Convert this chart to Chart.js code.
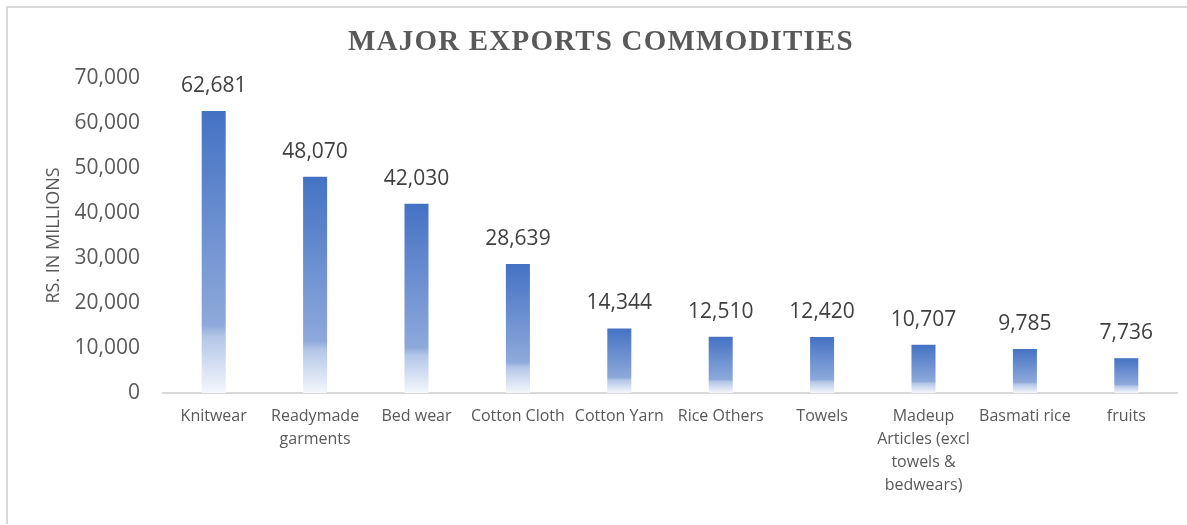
<!DOCTYPE html>
<html>
<head>
<meta charset="utf-8">
<script src="https://cdn.jsdelivr.net/npm/chart.js@4.4.0/dist/chart.umd.min.js"></script>
<style>
  html, body { margin: 0; padding: 0; background: #fff; }
  #wrap { position: relative; width: 1187px; height: 525px; }
  #frame { position: absolute; left: 6px; top: 6px; right: 0; bottom: 1px;
           border-left: 2px solid #d9d9d9; border-top: 2px solid #d9d9d9; }
  canvas { position: absolute; left: 0; top: 0; }
</style>
</head>
<body>
<div id="wrap">
  <div id="frame"></div>
  <canvas id="chart" width="1187" height="525"></canvas>
</div>
<script>
const chartTitle = 'MAJOR EXPORTS COMMODITIES';
const categories = [
  'Knitwear',
  ['Readymade', 'garments'],
  'Bed wear',
  'Cotton Cloth',
  'Cotton Yarn',
  'Rice Others',
  'Towels',
  ['Madeup', 'Articles (excl', 'towels &', 'bedwears)'],
  'Basmati rice',
  'fruits'
];
const exportValues = [62681, 48070, 42030, 28639, 14344, 12510, 12420, 10707, 9785, 7736];
const yMin = 0;
const yMax = 70000;
const yStep = 10000;

// gradient per bar: dark blue at the top, fading to almost white at the base
function barGradient(context) {
  const chart = context.chart;
  const { ctx, chartArea, scales } = chart;
  if (!chartArea || context.type !== 'data') return '#4472C4';
  const top = scales.y.getPixelForValue(context.raw);
  const base = scales.y.getPixelForValue(0);
  const g = ctx.createLinearGradient(0, top, 0, base);
  g.addColorStop(0, '#4472C4');
  g.addColorStop(0.76, '#8EA9DB');
  g.addColorStop(0.8, '#B3C6E8');
  g.addColorStop(1, '#F4F7FC');
  return g;
}

// value labels above each bar
const valueLabels = {
  id: 'valueLabels',
  afterDatasetsDraw(chart) {
    const { ctx } = chart;
    const meta = chart.getDatasetMeta(0);
    ctx.save();
    ctx.font = '21px "Open Sans"';
    ctx.fillStyle = '#404040';
    ctx.textAlign = 'center';
    ctx.textBaseline = 'middle';
    meta.data.forEach((bar, i) => {
      ctx.fillText(exportValues[i].toLocaleString('en-US'), bar.x, bar.y - 25);
    });
    ctx.restore();
  }
};

// title drawn by hand so it can get the wide letter spacing of the original
const spacedTitle = {
  id: 'spacedTitle',
  afterDraw(chart) {
    const { ctx } = chart;
    ctx.save();
    ctx.font = 'bold 29px "Liberation Serif"';
    ctx.letterSpacing = '1.2px';
    ctx.fillStyle = '#595959';
    ctx.textAlign = 'center';
    ctx.textBaseline = 'middle';
    ctx.fillText(chartTitle, 601, 43);
    ctx.restore();
  }
};

new Chart(document.getElementById('chart'), {
  type: 'bar',
  data: {
    labels: categories,
    datasets: [{
      data: exportValues,
      backgroundColor: barGradient,
      borderWidth: 0,
      categoryPercentage: 1,
      barPercentage: 0.237
    }]
  },
  options: {
    responsive: false,
    animation: false,
    devicePixelRatio: 1,
    layout: { padding: { left: 0, right: 10, top: 78, bottom: 0 } },
    plugins: {
      legend: { display: false },
      tooltip: { enabled: false },
      title: { display: false }
    },
    scales: {
      x: {
        grid: { display: false, drawTicks: false },
        border: { display: true, color: '#d9d9d9', width: 2 },
        ticks: {
          color: '#595959',
          font: { family: '"Open Sans"', size: 16, lineHeight: 1.44 },
          padding: 12,
          maxRotation: 0,
          autoSkip: false
        },
        afterFit(scale) { scale.height = 132; }
      },
      y: {
        min: yMin,
        max: yMax,
        grid: { display: false, drawTicks: false },
        border: { display: false },
        ticks: {
          stepSize: yStep,
          color: '#595959',
          font: { family: '"Open Sans"', size: 21 },
          padding: 23,
          callback: (v) => v.toLocaleString('en-US')
        },
        title: {
          display: true,
          text: 'RS. IN MILLIONS',
          color: '#595959',
          font: { family: '"Open Sans"', size: 18, lineHeight: 1.2 },
          padding: { top: 43, bottom: 0 }
        },
        afterFit(scale) { scale.width = 163; }
      }
    }
  },
  plugins: [valueLabels, spacedTitle]
});
</script>
</body>
</html>
